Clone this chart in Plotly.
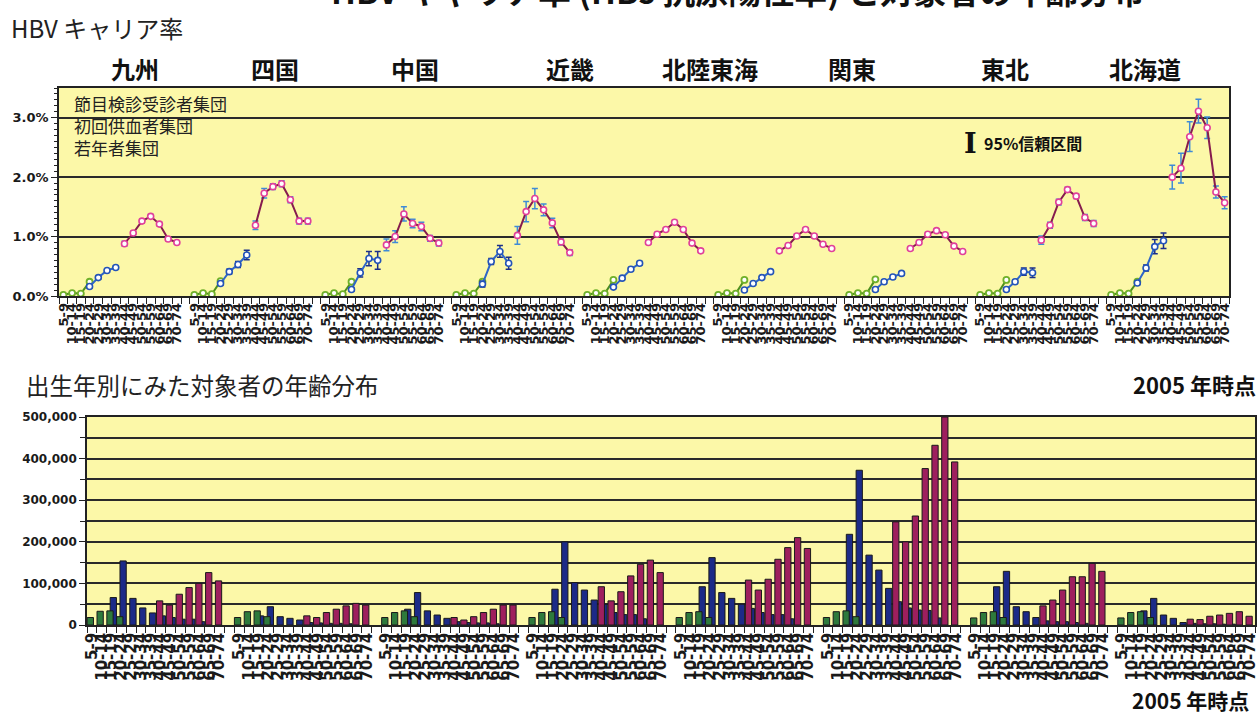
import plotly.graph_objects as go

W, H = 1259, 717

AGE_LABELS = ["5-9", "10-14", "15-19", "20-24", "25-29", "30-34", "35-39",
              "40-44", "45-49", "50-54", "55-59", "60-64", "65-69", "70-74"]
REGIONS = ["九州", "四国", "中国", "近畿", "北陸東海", "関東", "東北", "北海道"]
SERIES_NAMES = ["節目検診受診者集団", "初回供血者集団", "若年者集団"]
RATE_TICKS = [0, 1, 2, 3]
RATE_TICK_LABELS = ["0.0%", "1.0%", "2.0%", "3.0%"]

# ---- Top panel: HBV carrier rate (%) for 9 blocks ----
# 若年者集団, ages 5-9 .. 20-24
YOUNG_RATE = [
    [0.02, 0.05, 0.04, 0.24], [0.02, 0.05, 0.03, 0.25], [0.02, 0.05, 0.03, 0.24],
    [0.02, 0.05, 0.04, 0.24], [0.02, 0.05, 0.04, 0.27], [0.02, 0.05, 0.04, 0.27],
    [0.02, 0.05, 0.04, 0.28], [0.02, 0.05, 0.04, 0.27], [0.02, 0.05, 0.04, 0.24],
]
# 初回供血者集団, ages 20-24 .. 35-39
DONOR_RATE = [
    [0.16, 0.31, 0.43, 0.48], [0.21, 0.41, 0.53, 0.69], [0.11, 0.39, 0.63, 0.60],
    [0.20, 0.58, 0.75, 0.55], [0.15, 0.30, 0.45, 0.55], [0.10, 0.21, 0.31, 0.41],
    [0.11, 0.24, 0.32, 0.38], [0.11, 0.24, 0.41, 0.39], [0.22, 0.47, 0.83, 0.93],
]
DONOR_CI = [
    [0.03, 0.03, 0.03, 0.03], [0.03, 0.04, 0.05, 0.08], [0.03, 0.07, 0.12, 0.15],
    [0.05, 0.05, 0.10, 0.10], [0.02, 0.02, 0.03, 0.03], [0.02, 0.02, 0.02, 0.02],
    [0.03, 0.03, 0.03, 0.03], [0.03, 0.03, 0.06, 0.08], [0.03, 0.05, 0.12, 0.13],
]
# 節目検診受診者集団, ages 40-44 .. 70-74
CHECKUP_RATE = [
    [0.88, 1.06, 1.26, 1.34, 1.21, 0.96, 0.90],
    [1.19, 1.73, 1.84, 1.89, 1.62, 1.26, 1.26],
    [0.86, 1.00, 1.38, 1.22, 1.17, 0.97, 0.89],
    [1.02, 1.42, 1.64, 1.45, 1.23, 0.91, 0.73],
    [0.90, 1.04, 1.12, 1.24, 1.12, 0.89, 0.76],
    [0.76, 0.85, 1.01, 1.12, 1.01, 0.87, 0.80],
    [0.80, 0.90, 1.04, 1.10, 1.03, 0.84, 0.75],
    [0.94, 1.19, 1.58, 1.79, 1.68, 1.32, 1.22],
    [2.00, 2.15, 2.68, 3.11, 2.83, 1.75, 1.57],
]
CHECKUP_CI = [
    [0.04, 0.03, 0.03, 0.03, 0.03, 0.03, 0.03],
    [0.07, 0.08, 0.05, 0.05, 0.05, 0.05, 0.05],
    [0.10, 0.10, 0.12, 0.07, 0.07, 0.05, 0.05],
    [0.15, 0.17, 0.17, 0.10, 0.08, 0.05, 0.05],
    [0.03, 0.03, 0.03, 0.03, 0.03, 0.03, 0.03],
    [0.03, 0.03, 0.03, 0.03, 0.03, 0.03, 0.03],
    [0.03, 0.03, 0.03, 0.03, 0.03, 0.03, 0.03],
    [0.07, 0.05, 0.05, 0.04, 0.04, 0.05, 0.05],
    [0.20, 0.25, 0.25, 0.20, 0.18, 0.10, 0.10],
]

# ---- Bottom panel: number of subjects (2005), 8 regions ----
# 若年者, ages 5-9 .. 20-24
YOUNG_N = [
    [18000, 33000, 34000, 20000], [18000, 32000, 34000, 20000],
    [18000, 30000, 34000, 20000], [18000, 30000, 32000, 18000],
    [18000, 30000, 32000, 18000], [18000, 32000, 34000, 20000],
    [17000, 30000, 32000, 18000], [17000, 30000, 32000, 18000],
]
# 初回供血者, ages 15-19 .. 60-64
DONOR_N = [
    [66000, 154000, 64000, 41000, 29000, 22000, 18000, 14000, 14000, 8000],
    [22000, 44000, 20000, 16000, 12000, 6000, 5000, 4000, 4000, 3000],
    [38000, 78000, 34000, 24000, 16000, 8000, 6000, 5000, 5000, 3000],
    [86000, 200000, 102000, 84000, 60000, 50000, 30000, 25000, 25000, 15000],
    [92000, 162000, 78000, 64000, 50000, 40000, 30000, 25000, 25000, 15000],
    [218000, 372000, 168000, 132000, 88000, 56000, 41000, 36000, 35000, 17000],
    [92000, 129000, 44000, 32000, 18000, 10000, 8000, 8000, 6000, 4000],
    [34000, 64000, 24000, 16000, 6000, 4000, 3000, 3000, 2000, 2000],
]
# 節目検診, ages 40-44 .. 70-74
CHECKUP_N = [
    [58000, 48000, 74000, 90000, 100000, 126000, 106000],
    [22000, 18000, 30000, 38000, 46000, 52000, 48000],
    [18000, 12000, 20000, 30000, 38000, 48000, 48000],
    [92000, 58000, 80000, 118000, 146000, 156000, 126000],
    [108000, 84000, 110000, 158000, 186000, 210000, 184000],
    [248000, 200000, 262000, 376000, 432000, 500000, 392000],
    [46000, 60000, 84000, 116000, 116000, 148000, 129000],
    [14000, 13000, 21000, 24000, 28000, 32000, 21000],
]

STRIDE = 15  # 14 age classes + 1 empty slot per block
TOP_BLOCKS = len(CHECKUP_RATE)
BOT_BLOCKS = len(CHECKUP_N)


def px(x):
    return x / W


def py(y):
    return 1 - y / H


def line_xy(blocks, start, errs=None):
    xs, ys, es = [], [], []
    for g, vals in enumerate(blocks):
        for k, v in enumerate(vals):
            xs.append(g * STRIDE + start + k)
            ys.append(v)
            es.append(errs[g][k] if errs else 0)
        xs.append(None)
        ys.append(None)
        es.append(0)
    return xs, ys, es


def bar_xy(blocks, start):
    xs, ys = [], []
    for g, vals in enumerate(blocks):
        for k, v in enumerate(vals):
            xs.append(g * STRIDE + start + k)
            ys.append(v)
    return xs, ys


fig = go.Figure()

# ---------- top line chart ----------
MAG_LINE, MAG_MK, MAG_ERR = "#861c4e", "#e2409a", "#3f8bd6"
BLU_LINE, BLU_MK, BLU_ERR = "#2f66c8", "#2454b8", "#1b2f8a"
GRN_LINE, GRN_MK = "#4f8f1f", "#6fb02a"

x, y, e = line_xy(YOUNG_RATE, 0)
fig.add_trace(go.Scatter(x=x, y=y, mode="lines+markers", name=SERIES_NAMES[2],
                         line=dict(color=GRN_LINE, width=2),
                         marker=dict(symbol="circle", size=6, color="white",
                                     line=dict(color=GRN_MK, width=1.8)),
                         xaxis="x", yaxis="y", showlegend=False))
x, y, e = line_xy(DONOR_RATE, 3, DONOR_CI)
fig.add_trace(go.Scatter(x=x, y=y, mode="lines+markers", name=SERIES_NAMES[1],
                         line=dict(color=BLU_LINE, width=2),
                         error_y=dict(type="data", array=e, color=BLU_ERR,
                                      thickness=1.5, width=3),
                         marker=dict(symbol="circle", size=6, color="white",
                                     line=dict(color=BLU_MK, width=1.6)),
                         xaxis="x", yaxis="y", showlegend=False))
x, y, e = line_xy(CHECKUP_RATE, 7, CHECKUP_CI)
fig.add_trace(go.Scatter(x=x, y=y, mode="lines+markers", name=SERIES_NAMES[0],
                         line=dict(color=MAG_LINE, width=2),
                         error_y=dict(type="data", array=e, color=MAG_ERR,
                                      thickness=1.5, width=3),
                         marker=dict(symbol="circle", size=6, color="white",
                                     line=dict(color=MAG_MK, width=1.6)),
                         xaxis="x", yaxis="y", showlegend=False))

# ---------- bottom bar chart ----------
BAR_W = 0.64
OUT = dict(color="#1a1a1a", width=1)
x, y = bar_xy(DONOR_N, 2)
fig.add_trace(go.Bar(x=x, y=y, width=BAR_W, offset=-0.14, name=SERIES_NAMES[1],
                     marker=dict(color="#1c2a88", line=OUT),
                     xaxis="x2", yaxis="y2", showlegend=False))
x, y = bar_xy(YOUNG_N, 0)
fig.add_trace(go.Bar(x=x, y=y, width=BAR_W, offset=-0.48, name=SERIES_NAMES[2],
                     marker=dict(color="#2e7a3c", line=OUT),
                     xaxis="x2", yaxis="y2", showlegend=False))
x, y = bar_xy(CHECKUP_N, 7)
fig.add_trace(go.Bar(x=x, y=y, width=BAR_W, offset=-0.42, name=SERIES_NAMES[0],
                     marker=dict(color="#9e1f5e", line=OUT),
                     xaxis="x2", yaxis="y2", showlegend=False))

TXT = "#1a1a1a"
TICKFONT_X = dict(family="DejaVu Sans", size=13, color=TXT, weight="bold")
PLOT_BG = "#fcf8a8"

top_ticks = [g * STRIDE + i for g in range(TOP_BLOCKS) for i in range(len(AGE_LABELS))]
bot_ticks = [g * STRIDE + i for g in range(BOT_BLOCKS) for i in range(len(AGE_LABELS))]

fig.update_layout(
    template="none",
    width=W, height=H, autosize=False,
    margin=dict(l=0, r=0, t=0, b=0, pad=0, autoexpand=False),
    paper_bgcolor="white",
    plot_bgcolor=PLOT_BG,
    barmode="overlay",
    font=dict(family="Noto Sans CJK JP, DejaVu Sans", color=TXT),
    xaxis=dict(domain=[px(59), px(1229)], anchor="y", automargin=False,
               range=[-0.5, TOP_BLOCKS * STRIDE - 1.5],
               tickmode="array", tickvals=top_ticks,
               ticktext=AGE_LABELS * TOP_BLOCKS, tickangle=-90,
               ticks="", tickfont=TICKFONT_X,
               showline=True, linecolor="#222", linewidth=1.6, mirror=True,
               showgrid=False, zeroline=False,
               minor=dict(tickmode="linear", tick0=-0.5, dtick=1, ticks="outside",
                          ticklen=6, tickwidth=1.2, tickcolor="#222", showgrid=False)),
    yaxis=dict(domain=[py(296), py(88)], anchor="x", automargin=False,
               range=[0, 3.5], tickmode="array", tickvals=RATE_TICKS,
               ticktext=RATE_TICK_LABELS,
               tickfont=dict(family="DejaVu Sans", size=13, color=TXT, weight="bold"),
               ticks="outside", ticklen=6, tickwidth=1.2, tickcolor="#222",
               showline=True, linecolor="#222", linewidth=1.6, mirror=True,
               showgrid=True, gridcolor="#2a2a2a", gridwidth=1.5, zeroline=False,
               minor=dict(tickmode="linear", tick0=0, dtick=0.1, ticks="outside",
                          ticklen=3, tickwidth=1, tickcolor="#222", showgrid=False)),
    xaxis2=dict(domain=[px(87), px(1255)], anchor="y2", automargin=False,
                range=[-0.5, BOT_BLOCKS * STRIDE - 1.5],
                tickmode="array", tickvals=bot_ticks,
                ticktext=AGE_LABELS * BOT_BLOCKS, tickangle=-90,
                ticks="", tickfont=dict(TICKFONT_X, size=15),
                showline=True, linecolor="#222", linewidth=1.6, mirror=True,
                showgrid=False, zeroline=False,
                minor=dict(tickmode="linear", tick0=-0.5, dtick=1, ticks="outside",
                           ticklen=6, tickwidth=1.2, tickcolor="#222", showgrid=False)),
    yaxis2=dict(domain=[py(625), py(417)], anchor="x2", automargin=False,
                range=[0, 500000], tickmode="linear", tick0=0, dtick=100000,
                tickformat=",d",
                tickfont=dict(family="DejaVu Sans", size=12, color=TXT, weight="bold"),
                ticks="outside", ticklen=6, tickwidth=1.2, tickcolor="#222",
                showline=True, linecolor="#222", linewidth=1.6, mirror=True,
                showgrid=True, gridcolor="#2a2a2a", gridwidth=1.5, zeroline=False,
                minor=dict(tickmode="linear", tick0=0, dtick=50000, ticks="outside",
                           ticklen=5, tickwidth=1.2, tickcolor="#222",
                           showgrid=True, gridcolor="#2a2a2a", gridwidth=1.5)),
)

# legend box covering gridline in top panel
fig.add_shape(type="rect", layer="between", xref="paper", yref="paper",
              x0=px(60), x1=px(228), y0=py(155), y1=py(90),
              fillcolor=PLOT_BG, line=dict(width=0))

ann = []
ann.append(dict(text="<b>HBV キャリア率 (HBs 抗原陽性率) と対象者の年齢分布</b>",
                x=px(737), y=py(-10), xanchor="center", yanchor="middle",
                font=dict(size=33, color="#111")))
ann.append(dict(text="HBV キャリア率", x=px(9), y=py(27), xanchor="left",
                yanchor="middle", font=dict(size=24, color="#222")))
REGION_X = [135, 275, 415, 570, 710, 852, 1005, 1145]
for name, cx in zip(REGIONS, REGION_X):
    ann.append(dict(text=f"<b>{name}</b>", x=px(cx), y=py(68), xanchor="center",
                    yanchor="middle", font=dict(size=24, color="#111")))
ann.append(dict(text="<br>".join(SERIES_NAMES), x=px(72), y=py(125),
                xanchor="left", yanchor="middle", align="left",
                font=dict(size=17, color="#222")))
ann.append(dict(text="<b>I</b>", x=px(970), y=py(143), xanchor="center",
                yanchor="middle", font=dict(family="DejaVu Serif", size=27, color="#111")))
ann.append(dict(text="<b>95%信頼区間</b>", x=px(982), y=py(143), xanchor="left",
                yanchor="middle", font=dict(size=16, color="#111")))
ann.append(dict(text="出生年別にみた対象者の年齢分布", x=px(24), y=py(385),
                xanchor="left", yanchor="middle", font=dict(size=23.5, color="#222")))
ann.append(dict(text="<b>2005 年時点</b>", x=px(1258), y=py(384), xanchor="right",
                yanchor="middle", font=dict(size=22, color="#111")))
ann.append(dict(text="<b>2005 年時点</b>", x=px(1251), y=py(700), xanchor="right",
                yanchor="middle", font=dict(size=21, color="#111")))
for a in ann:
    a.update(xref="paper", yref="paper", showarrow=False)
fig.update_layout(annotations=ann)

fig.write_html("out.html",
               config={"displayModeBar": False},
               post_script="document.documentElement.style.margin='0px';"
                           "document.body.style.margin='0px';"
                           "document.body.style.padding='0px';"
                           "document.body.style.overflow='hidden';")
